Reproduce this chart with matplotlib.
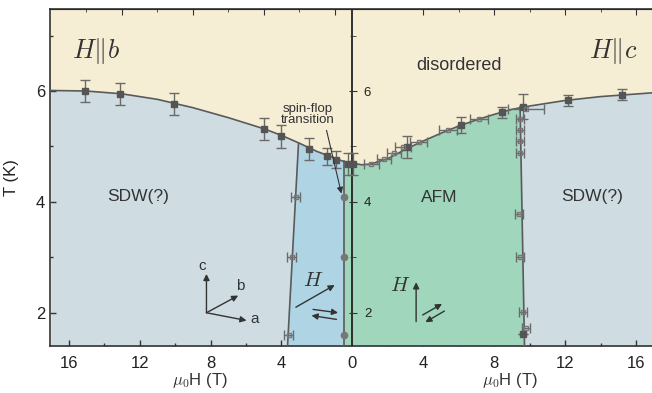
import numpy as np
import matplotlib
matplotlib.use("Agg")
import matplotlib.pyplot as plt
import matplotlib.transforms as mtransforms

plt.rcParams['font.family'] = ['Liberation Sans', 'DejaVu Sans']
plt.rcParams['mathtext.fontset'] = 'cm'

# colours of the phases
c_dis = '#f6eed4'
c_sdw = '#cfdde3'
c_sf = '#afd5e5'
c_afm = '#a0d6bc'
c_pt = '#555555'
c_line = '#5a5a5a'

# phase boundary, H||b (drawn on the left, negative side)
b_curve_H = [17, 15, 13, 11, 9, 7, 5, 4, 3, 2, 1, 0.5, 0]
b_curve_T = [6.01, 6.0, 5.95, 5.85, 5.7, 5.52, 5.32, 5.2, 5.06, 4.91, 4.79, 4.73, 4.70]
# phase boundary, H||c (right side)
c_curve_H = [0, 0.5, 1, 2, 3, 4, 5, 6, 7, 8, 9, 10, 12, 14, 17]
c_curve_T = [4.70, 4.67, 4.68, 4.78, 4.95, 5.1, 5.24, 5.37, 5.48, 5.58, 5.67, 5.73, 5.83, 5.9, 5.97]

# near-vertical boundaries
b_sdw_H = [3.66, 3.04]
b_sdw_T = [1.4, 5.06]
b_sf_H = [0.5, 0.5]
b_sf_T = [1.4, 4.73]
c_sdw_H = [9.7, 9.45]
c_sdw_T = [1.4, 5.72]

# H||b, temperature sweeps (filled squares)
b_tsw_H = [15.1, 13.1, 10.05, 5.0, 4.0, 2.45, 1.45, 0.93, 0.25]
b_tsw_T = [6.0, 5.94, 5.77, 5.32, 5.18, 4.95, 4.82, 4.76, 4.69]
b_tsw_err = [0.2, 0.2, 0.2, 0.2, 0.2, 0.2, 0.15, 0.15, 0.2]
# H||b, field sweeps (open squares)
b_hsw_H = [3.21, 3.42, 3.59]
b_hsw_T = [4.09, 3.0, 1.6]
b_hsw_err = [0.25, 0.25, 0.25]
# spin-flop points
b_sf_pts_H = [0.5, 0.5, 0.5]
b_sf_pts_T = [4.09, 3.0, 1.6]

# H||c, temperature sweeps
c_tsw_H = [0.05, 3.08, 6.12, 8.41, 9.6, 12.15, 15.17, 9.6]
c_tsw_T = [4.69, 4.99, 5.39, 5.62, 5.72, 5.83, 5.93, 1.61]
c_tsw_err = [0.2, 0.2, 0.15, 0.1, 0.22, 0.1, 0.1, 0.0]
# H||c, field sweeps across the curve
c_hsw_H = [1.05, 1.8, 2.33, 2.83, 3.74, 5.37, 7.12, 9.78]
c_hsw_T = [4.68, 4.78, 4.88, 4.99, 5.08, 5.29, 5.49, 5.68]
c_hsw_err = [0.42, 0.4, 0.4, 0.45, 0.47, 0.5, 0.5, 1.0]
# H||c, field sweeps on the AFM/SDW line
c_vsw_H = [9.45, 9.45, 9.45, 9.45, 9.37, 9.45, 9.6, 9.78]
c_vsw_T = [5.50, 5.29, 5.09, 4.88, 3.79, 3.0, 2.02, 1.73]
c_vsw_err = [0.22, 0.22, 0.22, 0.22, 0.22, 0.22, 0.22, 0.22]

ylo, yhi = 1.4, 7.48
txt = '#333333'

fig = plt.figure(figsize=(6.52, 3.93), dpi=100)
ax = fig.add_axes([50 / 652, 47 / 393, 604 / 652, 337 / 393])
ax.set_xlim(-17.05, 17)
ax.set_ylim(ylo, yhi)
ax.set_facecolor(c_dis)

bx = -np.array(b_curve_H, float)
by = np.array(b_curve_T, float)
cx = np.array(c_curve_H, float)
cy = np.array(c_curve_T, float)
xx = np.concatenate([bx, cx[1:]])
yy = np.concatenate([by, cy[1:]])

def curve_between(x0, x1):
    m = (xx > x0) & (xx < x1)
    xs = np.concatenate([[x0], xx[m], [x1]])
    ys = np.interp(xs, xx, yy)
    return list(xs), list(ys)

# SDW everywhere under the curve
ax.fill_between(xx, ylo, yy, color=c_sdw, lw=0, zorder=1)
# spin-flop region, H||b
xs, ys = curve_between(-b_sdw_H[1], -b_sf_H[1])
ax.fill([-b_sdw_H[0]] + xs + [-b_sf_H[0]], [ylo] + ys + [ylo], color=c_sf, lw=0, zorder=2)
# AFM region
xs, ys = curve_between(-b_sf_H[1], c_sdw_H[1])
ax.fill([-b_sf_H[0]] + xs + [c_sdw_H[0]], [ylo] + ys + [ylo], color=c_afm, lw=0, zorder=2)

# boundaries
ax.plot(xx, yy, color=c_line, lw=1.2, zorder=3)
ax.plot(-np.array(b_sdw_H), b_sdw_T, color=c_line, lw=1.2, zorder=3)
ax.plot(-np.array(b_sf_H), b_sf_T, color=c_line, lw=1.2, zorder=3)
ax.plot(c_sdw_H, c_sdw_T, color=c_line, lw=1.2, zorder=3)
ax.axvline(0, color='#222222', lw=1.3, zorder=4)

eb = dict(ecolor='#6a6a6a', elinewidth=1.0, capsize=3.5, capthick=1.0, zorder=5)
ax.errorbar(-np.array(b_tsw_H), b_tsw_T, yerr=b_tsw_err, fmt='s', ms=5, color=c_pt, **eb)
ax.errorbar(c_tsw_H, c_tsw_T, yerr=c_tsw_err, fmt='s', ms=5, color=c_pt, **eb)
ax.errorbar(-np.array(b_hsw_H), b_hsw_T, xerr=b_hsw_err, fmt='s', ms=3.5, mfc='none', mec='#777777', **eb)
ax.errorbar(c_hsw_H, c_hsw_T, xerr=c_hsw_err, fmt='s', ms=3.5, mfc='none', mec='#777777', **eb)
ax.errorbar(c_vsw_H, c_vsw_T, xerr=c_vsw_err, fmt='s', ms=3.5, mfc='none', mec='#777777', **eb)
ax.plot(-np.array(b_sf_pts_H), b_sf_pts_T, 'o', ms=4.5, color='#777777', zorder=5)

# ticks
ax.set_xticks([-16, -12, -8, -4, 0, 4, 8, 12, 16])
ax.set_xticklabels(['16', '12', '8', '4', '0', '4', '8', '12', '16'])
ax.set_xticks([-14, -10, -6, -2, 2, 6, 10, 14], minor=True)
ax.set_yticks([2, 4, 6])
ax.set_yticks([3, 5, 7], minor=True)
ax.tick_params(which='both', direction='in', labelsize=12, width=1.0, color=txt, labelcolor='#222222')
ax.tick_params(which='major', length=4)
ax.tick_params(which='minor', length=2.5)
ax.tick_params(axis='x', pad=7)

top = ax.secondary_xaxis('top')
top.set_xticks([-13, -9, -5, -1, 4, 8, 12, 16])
top.set_xticks([-15, -11, -7, -3, 6, 10, 14], minor=True)
top.tick_params(which='both', direction='in', labeltop=False, color=txt)
top.tick_params(which='major', length=4)
top.tick_params(which='minor', length=2.5)

for s in ax.spines.values():
    s.set_linewidth(1.2)
    s.set_color(txt)

# y ticks on the centre line
mid = fig.add_axes([(50 + 302.7) / 652, 47 / 393, 1e-5, 337 / 393])
mid.set_ylim(ylo, yhi)
mid.patch.set_visible(False)
for k in ['top', 'bottom', 'right', 'left']:
    mid.spines[k].set_visible(False)
mid.set_xticks([])
mid.set_yticks([2, 4, 6])
mid.set_yticks([3, 5, 7], minor=True)
mid.tick_params(axis='y', which='both', direction='inout', left=True, right=False,
                labelleft=False, labelright=True, labelsize=9.5, color=txt,
                labelcolor='#222222', pad=5)
mid.tick_params(axis='y', which='major', length=6)
mid.tick_params(axis='y', which='minor', length=4)

# labels
ax.set_ylabel('T (K)', fontsize=12, labelpad=12, color='#222222')
tr = mtransforms.blended_transform_factory(ax.transData, ax.transAxes)
ax.text(-8.6, -0.103, r'$\mu_0$H (T)', transform=tr, ha='center', va='center', fontsize=12, color=txt)
ax.text(8.86, -0.103, r'$\mu_0$H (T)', transform=tr, ha='center', va='center', fontsize=12, color=txt)

ax.text(-15.8, 6.73, r'$H\|b$', fontsize=19, ha='left', va='center', color=txt, zorder=6)
ax.text(14.7, 6.73, r'$H\|c$', fontsize=19, ha='center', va='center', color=txt, zorder=6)
ax.text(6.0, 6.46, 'disordered', fontsize=13, ha='center', va='center', color=txt, zorder=6)
ax.text(-12.1, 4.1, 'SDW(?)', fontsize=12.5, ha='center', va='center', color=txt, zorder=6)
ax.text(13.5, 4.1, 'SDW(?)', fontsize=12.5, ha='center', va='center', color=txt, zorder=6)
ax.text(4.9, 4.08, 'AFM', fontsize=12.5, ha='center', va='center', color=txt, zorder=6)
ax.text(-2.5, 5.58, 'spin-flop\ntransition', fontsize=9.5, ha='center', va='center',
        linespacing=0.95, color=txt, zorder=6)

arr = dict(arrowstyle='-|>', color=txt, lw=1.0, mutation_scale=9, shrinkA=0, shrinkB=0)
ax.annotate('', xy=(-0.62, 4.15), xytext=(-1.46, 5.29), arrowprops=dict(arr, lw=0.8), zorder=6)

# crystal axes
ax.annotate('', xy=(-8.23, 2.70), xytext=(-8.23, 2.0), arrowprops=arr, zorder=6)
ax.annotate('', xy=(-6.44, 2.31), xytext=(-8.23, 2.0), arrowprops=arr, zorder=6)
ax.annotate('', xy=(-5.97, 1.86), xytext=(-8.23, 2.0), arrowprops=arr, zorder=6)
ax.text(-8.45, 2.85, 'c', fontsize=11, ha='center', va='center', color=txt)
ax.text(-6.3, 2.49, 'b', fontsize=11, ha='center', va='center', color=txt)
ax.text(-5.5, 1.89, 'a', fontsize=11, ha='center', va='center', color=txt)

# field and spin directions
ax.annotate('', xy=(-1.0, 2.50), xytext=(-3.19, 2.10), arrowprops=arr, zorder=6)
ax.text(-2.22, 2.58, r'$H$', fontsize=15, ha='center', va='center', color=txt)
ax.annotate('', xy=(-0.81, 2.0), xytext=(-2.22, 2.06), arrowprops=arr, zorder=6)
ax.annotate('', xy=(-2.31, 1.95), xytext=(-0.9, 1.88), arrowprops=arr, zorder=6)

ax.annotate('', xy=(3.59, 2.55), xytext=(3.59, 1.84), arrowprops=arr, zorder=6)
ax.text(2.69, 2.49, r'$H$', fontsize=15, ha='center', va='center', color=txt)
ax.annotate('', xy=(5.05, 2.16), xytext=(3.96, 1.96), arrowprops=arr, zorder=6)
ax.annotate('', xy=(4.11, 1.83), xytext=(5.18, 2.03), arrowprops=arr, zorder=6)

fig.savefig('out.png', dpi=100)
